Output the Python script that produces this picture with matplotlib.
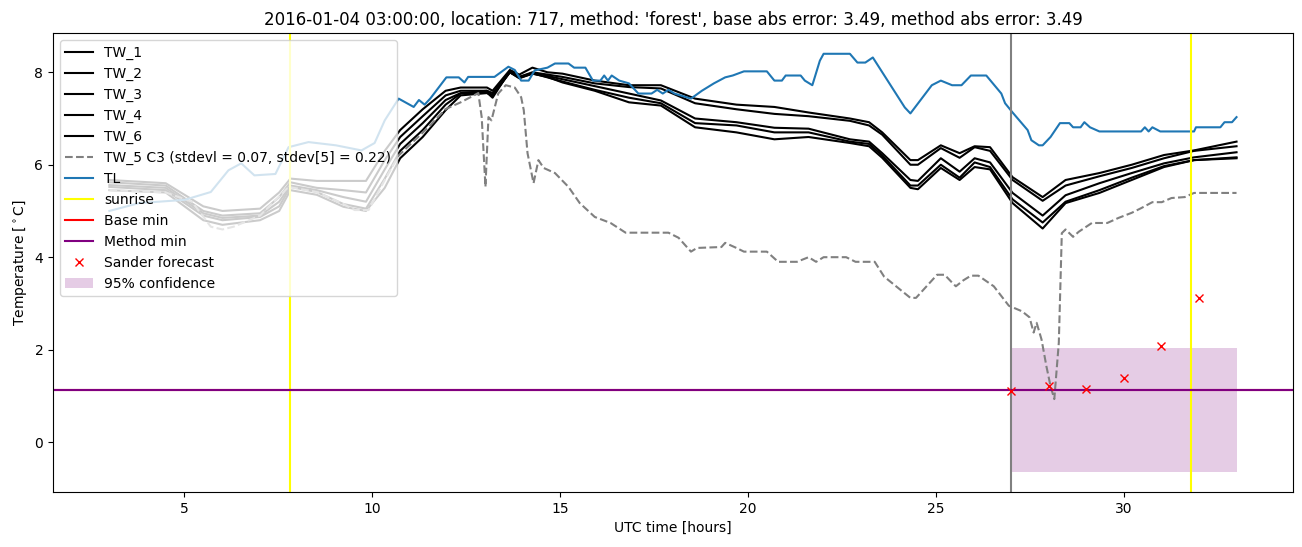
import matplotlib
matplotlib.use("Agg")
import matplotlib.pyplot as plt


# Time grid (UTC hours) shared by the black TW series
t_tw = [3.0, 4.5, 5.5, 6.01, 7.01, 7.52, 7.82, 8.52, 9.23, 9.83, 10.33, 10.74, 11.34, 11.95,
        12.35, 13.05, 13.2, 13.66, 13.91, 14.26, 14.66, 15.06, 15.92, 16.83, 17.68, 18.59,
        19.69, 20.7, 21.61, 22.71, 23.22, 23.57, 24.32, 24.52, 25.13, 25.63, 26.03, 26.44,
        27.04, 27.84, 28.45, 29.35, 30.21, 31.07, 31.87, 33.0]

tw_1 = [5.67, 5.6, 5.1, 5.0, 5.05, 5.4, 5.7, 5.65, 5.65, 5.65, 6.3, 6.75, 7.2, 7.6, 7.67,
        7.67, 7.6, 8.05, 7.95, 8.1, 8.0, 7.97, 7.82, 7.72, 7.72, 7.43, 7.3,
        7.25, 7.13, 7.0, 6.92, 6.7, 6.1, 6.1, 6.42, 6.25, 6.4, 6.38, 5.73, 5.3,
        5.67, 5.82, 6.0, 6.21, 6.31, 6.5]
tw_2 = [5.62, 5.55, 5.0, 4.9, 4.95, 5.3, 5.62, 5.5, 5.45, 5.4, 6.1, 6.6, 7.05, 7.5, 7.6,
        7.6, 7.55, 8.0, 7.9, 8.0, 7.95, 7.9, 7.76, 7.68, 7.65, 7.33, 7.2,
        7.1, 7.05, 6.95, 6.85, 6.65, 6.0, 6.0, 6.36, 6.15, 6.38, 6.3, 5.67, 5.22,
        5.55, 5.75, 5.93, 6.14, 6.3, 6.4]
tw_3 = [5.56, 5.5, 4.95, 4.85, 4.9, 5.2, 5.55, 5.45, 5.3, 5.2, 5.9, 6.45, 6.9, 7.4, 7.55,
        7.6, 7.5, 8.0, 7.88, 7.97, 7.92, 7.85, 7.7, 7.54, 7.39, 7.0, 6.92,
        6.8, 6.78, 6.55, 6.5, 6.25, 5.67, 5.65, 6.14, 5.85, 6.14, 6.05, 5.39, 4.9,
        5.34, 5.6, 5.82, 6.03, 6.16, 6.27]
tw_4 = [5.52, 5.45, 4.9, 4.8, 4.87, 5.1, 5.52, 5.41, 5.15, 5.05, 5.7, 6.3, 6.75, 7.3, 7.54,
        7.56, 7.45, 8.03, 7.9, 7.98, 7.89, 7.8, 7.62, 7.45, 7.33, 6.9, 6.85,
        6.7, 6.7, 6.5, 6.45, 6.2, 5.55, 5.55, 6.0, 5.72, 6.05, 5.95, 5.25, 4.75,
        5.2, 5.45, 5.72, 5.97, 6.1, 6.16]
tw_6 = [5.45, 5.4, 4.8, 4.7, 4.8, 5.0, 5.45, 5.35, 5.09, 5.0, 5.5, 6.14, 6.6, 7.18, 7.5,
        7.55, 7.5, 8.0, 7.87, 7.97, 7.9, 7.78, 7.6, 7.35, 7.28, 6.81, 6.7,
        6.55, 6.6, 6.47, 6.4, 6.15, 5.5, 5.47, 5.93, 5.67, 5.95, 5.9, 5.17, 4.62,
        5.17, 5.39, 5.67, 5.95, 6.1, 6.14]

# TW_5 (dashed)
t_tw5 = [3.0, 4.5, 5.2, 5.7, 6.01, 6.31, 7.01, 7.77, 8.52, 9.18, 9.53, 9.9, 10.33, 10.7,
         10.84, 11.49, 11.94, 12.35, 12.82, 12.91, 13.01, 13.09, 13.17, 13.35, 13.55,
         13.79, 13.96, 14.03, 14.13, 14.29, 14.42, 14.56, 14.86, 15.22, 15.52, 15.92,
         16.34, 16.74, 17.88, 18.15, 18.48, 18.64, 19.29, 19.39, 19.69, 19.89, 20.5,
         20.8, 21.3, 21.61, 21.81, 22.01, 22.61, 22.86, 23.37, 23.62, 24.32, 24.47,
         25.03, 25.23, 25.43, 25.53, 25.73, 25.93, 26.13, 26.54, 26.94, 27.29, 27.49,
         27.6, 27.68, 27.81, 27.94, 28.05, 28.15, 28.27, 28.35, 28.45, 28.65, 28.8,
         29.15, 29.56, 29.86, 30.21, 30.46, 30.76, 31.01, 31.27, 31.62, 31.87, 33.0]
tw_5 = [5.45, 5.4, 5.2, 4.66, 4.6, 4.66, 4.9, 5.52, 5.41, 5.17, 5.02, 5.02, 5.67, 6.2,
        6.31, 6.81, 7.2, 7.35, 7.55, 7.03, 5.52, 7.03, 6.96, 7.54, 7.72,
        7.67, 7.46, 7.18, 6.25, 5.6, 6.1, 5.93, 5.82, 5.52, 5.17, 4.87,
        4.74, 4.53, 4.53, 4.42, 4.12, 4.2, 4.22, 4.31, 4.2, 4.12, 4.12,
        3.9, 3.9, 4.0, 3.9, 4.0, 4.0, 3.9, 3.9, 3.58, 3.12, 3.12,
        3.62, 3.62, 3.45, 3.37, 3.5, 3.6, 3.6, 3.37, 2.95, 2.83, 2.7,
        2.37, 2.58, 2.22, 1.64, 1.21, 0.93, 2.15, 4.52, 4.6, 4.44, 4.55,
        4.74, 4.74, 4.85, 4.96, 5.06, 5.19, 5.19, 5.28, 5.3, 5.39, 5.39]

# TL (air temperature)
t_tl = [3.0, 3.79, 5.0, 5.7, 6.17, 6.51, 6.86, 7.42, 7.77, 8.3, 9.03, 9.71, 10.06, 10.33,
        10.7, 11.1, 11.24, 11.39, 11.54, 11.97, 12.3, 12.45, 12.55, 13.25, 13.62, 13.79,
        13.96, 14.16, 14.32, 14.66, 14.86, 15.22, 15.37, 15.67, 15.87, 16.07, 16.17,
        16.27, 16.37, 16.57, 16.83, 17.08, 17.43, 17.58, 17.73, 17.88, 18.04, 18.48,
        18.77, 19.09, 19.39, 19.59, 19.89, 20.5, 20.7, 20.9, 21.0, 21.4, 21.51, 21.71,
        21.91, 22.01, 22.71, 22.91, 23.12, 23.32, 24.17, 24.32, 24.89, 25.13, 25.43,
        25.68, 25.93, 26.34, 26.74, 26.84, 27.04, 27.44, 27.54, 27.74, 27.84, 28.05,
        28.3, 28.55, 28.65, 28.85, 28.95, 29.1, 29.35, 30.46, 30.56, 30.66, 30.76,
        30.97, 31.87, 31.92, 32.57, 32.68, 32.88, 33.0]
tl = [5.0, 5.17, 5.24, 5.41, 5.88, 6.03, 5.77, 5.8, 6.38, 6.49, 6.42, 6.31, 6.47, 6.96,
      7.43, 7.25, 7.4, 7.3, 7.43, 7.89, 7.89, 7.78, 7.9, 7.9, 8.12, 8.05,
      7.82, 7.82, 8.04, 8.1, 8.19, 8.19, 8.1, 8.1, 7.82, 7.82, 7.93,
      7.82, 7.93, 7.82, 7.76, 7.54, 7.54, 7.62, 7.54, 7.62, 7.54, 7.43,
      7.6, 7.76, 7.89, 7.93, 8.02, 8.02, 7.82, 7.82, 7.93, 7.93, 7.82, 7.72,
      8.25, 8.4, 8.4, 8.21, 8.21, 8.32, 7.24, 7.11, 7.72, 7.82, 7.72,
      7.72, 7.93, 7.93, 7.54, 7.33, 7.13, 6.75, 6.53, 6.42, 6.42, 6.6,
      6.9, 6.9, 6.81, 6.81, 6.92, 6.81, 6.72, 6.72, 6.81, 6.72, 6.81,
      6.72, 6.72, 6.81, 6.81, 6.92, 6.92, 7.03]

# Events / forecast
sunrise = [7.81, 31.8]
forecast_start = 27.0
forecast_end = 33.0
base_min = 1.12
method_min = 1.12
sander_t = [27, 28, 29, 30, 31, 32]
sander_val = [1.10, 1.21, 1.14, 1.38, 2.07, 3.12]
conf_low = -0.65
conf_high = 2.03

title = ("2016-01-04 03:00:00, location: 717, method: 'forest', "
         "base abs error: 3.49, method abs error: 3.49")

fig = plt.figure(figsize=(13.02, 5.47), dpi=100)
ax = fig.add_axes([0.0407, 0.1005, 0.9523, 0.8392])

for name, vals in [("TW_1", tw_1), ("TW_2", tw_2), ("TW_3", tw_3), ("TW_4", tw_4), ("TW_6", tw_6)]:
    ax.plot(t_tw, vals, color="black", label=name)
ax.plot(t_tw5, tw_5, "--", color="gray",
        label="TW_5 C3 (stdevl = 0.07, stdev[5] = 0.22)")
ax.plot(t_tl, tl, color="C0", label="TL")

ax.axvline(sunrise[0], color="yellow", label="sunrise")
ax.axvline(sunrise[1], color="yellow")
ax.axvline(forecast_start, color="gray")
ax.axhline(base_min, color="red", label="Base min")
ax.axhline(method_min, color="purple", label="Method min")
ax.plot(sander_t, sander_val, "x", color="red", label="Sander forecast")
ax.fill_between([forecast_start, forecast_end], conf_low, conf_high,
                color="purple", alpha=0.2, linewidth=0, label="95% confidence")

ax.set_xlim(1.5, 34.5)
ax.set_ylim(-1.08, 8.85)
ax.set_xlabel("UTC time [hours]")
ax.set_ylabel("Temperature [$^\\circ$C]")
ax.set_title(title)
ax.legend(loc="upper left")

fig.savefig("out.png", dpi=100)
